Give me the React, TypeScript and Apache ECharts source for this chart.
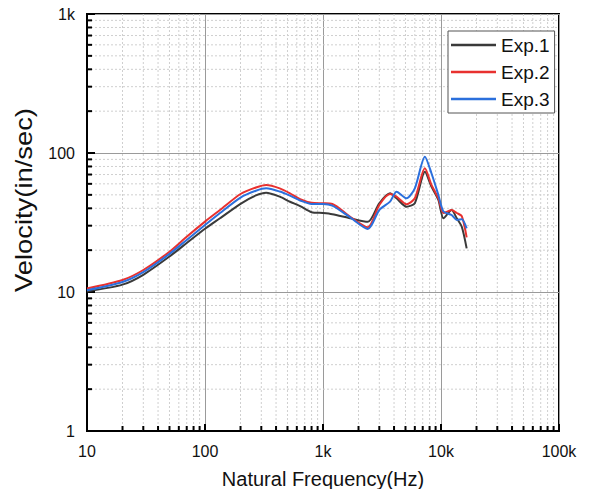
import React, { useEffect, useRef } from "react";
import * as echarts from "echarts";

const freq = [10, 20, 30, 50, 70, 100, 134, 200, 270, 330, 430, 525, 640, 800, 1000, 1200, 1700, 2400, 3000, 3700, 4200, 5100, 6000, 7300, 8300, 9500, 10500, 12300, 13600, 15000, 16500];
const exp1 = [10.1, 11.3, 13.3, 18.0, 22.5, 28.5, 33.9, 43.1, 49.5, 51.8, 48.5, 44.6, 41.5, 37.5, 37, 36.3, 33.9, 32, 43.5, 51.3, 47.2, 41.1, 43.5, 73.3, 57.3, 46, 33.9, 38.9, 33.9, 29.5, 20.6];
const exp2 = [10.6, 12.2, 14.4, 19.5, 25.0, 32.1, 38.9, 50.7, 56.5, 58.9, 55.7, 51.3, 46.5, 43.8, 43.5, 43, 34.8, 29.2, 42.3, 50.7, 48.5, 42.8, 47.2, 77.6, 59, 47.2, 37, 38.9, 37, 35.1, 24.7];
const exp3 = [10.3, 11.8, 13.9, 18.8, 23.7, 30.3, 37.0, 47.8, 53.5, 55.7, 52.8, 49.3, 45.5, 43, 43, 41.8, 34.4, 28.4, 38.9, 44.7, 52.7, 47.2, 55.7, 94, 71.5, 49.9, 37.9, 35.8, 33, 33.4, 28.7];

const seriesNames = ["Exp.1", "Exp.2", "Exp.3"];
const seriesColors = ["#3a3a3a", "#e8312f", "#2b6fdc"];
const xDecades = [10, 100, 1000, 10000];
const yDecades = [1, 10, 100];
const xLabels: Record<number, string> = { 10: "10", 100: "100", 1000: "1k", 10000: "10k", 100000: "100k" };
const yLabels: Record<number, string> = { 1: "1", 10: "10", 100: "100", 1000: "1k" };
const yTitle = "Velocity(in/sec)";
const xTitle = "Natural Frequency(Hz)";

const FONT = "'Liberation Sans', Arial, sans-serif";

export default function App() {
  const ref = useRef<HTMLDivElement>(null);
  useEffect(() => {
    if (!ref.current) return;
    const chart = echarts.init(ref.current, null, { renderer: "svg" });
    const fmt = (m: Record<number, string>) => (v: number) => {
      const k = Object.keys(m).map(Number).find((n) => Math.abs(n - v) / n < 1e-6);
      return k !== undefined ? m[k] : "";
    };
    const minorX: number[] = [];
    xDecades.forEach((d) => { for (let i = 2; i <= 9; i++) minorX.push(d * i); });
    const minorY: number[] = [];
    yDecades.forEach((d) => { for (let i = 2; i <= 9; i++) minorY.push(d * i); });

    const data = [exp1, exp2, exp3];
    chart.setOption({
      animation: false,
      grid: { left: 87, right: 33, top: 14, bottom: 66, show: true, borderColor: "#000", borderWidth: 2, backgroundColor: "#fff" },
      graphic: [
        {
          type: "text",
          x: 24,
          y: 200,
          rotation: Math.PI / 2,
          scaleX: 1.19,
          style: { text: yTitle, fontFamily: FONT, fontSize: 23, fill: "#111", align: "center", verticalAlign: "middle" },
        },
      ],
      legend: {
        data: seriesNames,
        orient: "vertical",
        left: 448,
        top: 31,
        icon: "rect",
        itemWidth: 45,
        itemHeight: 2.5,
        itemGap: 8,
        padding: [4.5, 5, 4.5, 3],
        borderColor: "#555",
        borderWidth: 1,
        backgroundColor: "#fff",
        textStyle: { fontFamily: FONT, fontSize: 19, color: "#111" },
      },
      xAxis: {
        type: "log",
        logBase: 10,
        min: 10,
        max: 100000,
        interval: 1,
        name: xTitle,
        nameLocation: "middle",
        nameGap: 38,
        nameTextStyle: { fontFamily: FONT, fontSize: 20, color: "#111" },
        axisLine: { lineStyle: { color: "#000", width: 2 } },
        axisTick: { inside: true, length: 7, lineStyle: { color: "#000", width: 2 } },
        axisLabel: { fontFamily: FONT, fontSize: 16, color: "#111", margin: 12, formatter: fmt(xLabels) },
        splitLine: { show: true, lineStyle: { color: "#9a9a9a", width: 1 } },
      },
      yAxis: {
        type: "log",
        logBase: 10,
        min: 1,
        max: 1000,
        interval: 1,
        axisLine: { lineStyle: { color: "#000", width: 2 } },
        axisTick: { inside: true, length: 8, lineStyle: { color: "#000", width: 2 } },
        axisLabel: { fontFamily: FONT, fontSize: 16, color: "#111", margin: 12, formatter: fmt(yLabels) },
        splitLine: { show: true, lineStyle: { color: "#9a9a9a", width: 1 } },
      },
      series: [
        {
          type: "custom",
          name: "grid",
          silent: true,
          z: 1,
          data: [[10, 1]],
          renderItem: (_p: any, api: any) => {
            const bl = api.coord([10, 1]);
            const tr = api.coord([100000, 1000]);
            const children: any[] = [];
            minorX.forEach((v) => {
              const p = api.coord([v, 1]);
              children.push({ type: "line", shape: { x1: p[0], y1: tr[1], x2: p[0], y2: bl[1] }, style: { stroke: "#cfcfcf", lineWidth: 1, lineDash: [2, 2] } });
              children.push({ type: "line", shape: { x1: p[0], y1: bl[1], x2: p[0], y2: bl[1] - 5 }, style: { stroke: "#000", lineWidth: 2 } });
            });
            minorY.forEach((v) => {
              const p = api.coord([10, v]);
              children.push({ type: "line", shape: { x1: bl[0], y1: p[1], x2: tr[0], y2: p[1] }, style: { stroke: "#cfcfcf", lineWidth: 1, lineDash: [2, 2] } });
              children.push({ type: "line", shape: { x1: bl[0], y1: p[1], x2: bl[0] + 5, y2: p[1] }, style: { stroke: "#000", lineWidth: 2 } });
            });
            return { type: "group", children };
          },
        },
        ...seriesNames.map((name, i) => ({
          type: "line",
          name,
          z: 3,
          data: freq.map((f, j) => [f, data[i][j]]),
          showSymbol: false,
          smooth: 0.25,
          lineStyle: { color: seriesColors[i], width: 2 },
          itemStyle: { color: seriesColors[i] },
        })),
      ],
    });
    return () => chart.dispose();
  }, []);
  return <div ref={ref} style={{ width: 592, height: 497, margin: -8 }} />;
}
